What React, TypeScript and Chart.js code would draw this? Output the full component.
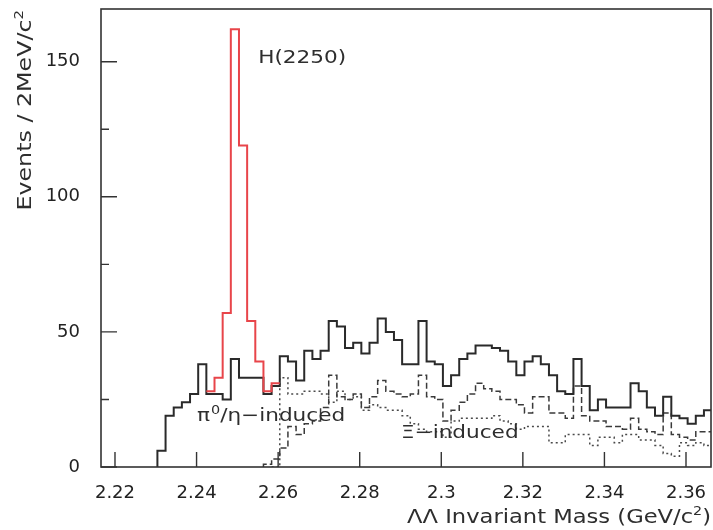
import React, { useEffect, useRef } from 'react';
import { Chart, registerables } from 'chart.js';

Chart.register(...registerables);

// Histogram binning (GeV/c^2): 2 MeV bins
const BIN_START = 2.2304;
const BIN_WIDTH = 0.002;

// All candidates (solid black), bins 0..67
const totalCounts = [
  6, 19, 22, 24, 27, 38, 27, 27, 25, 40,
  33, 33, 33, 27, 30, 41, 39, 32, 43, 40,
  43, 54, 52, 44, 46, 42, 46, 55, 50, 47,
  38, 38, 54, 39, 38, 30, 34, 40, 42, 45,
  45, 44, 43, 39, 34, 39, 41, 38, 34, 28,
  27, 40, 30, 21, 25, 22, 22, 22, 31, 28,
  22, 19, 26, 19, 18, 16, 19, 21,
];

// H(2250) signal region (red), bins 6..14
const signalFirstBin = 6;
const signalCounts = [28, 33, 57, 162, 119, 54, 39, 28, 31];

// pi0/eta-induced background (dashed), bins 13..67
const dashedFirstBin = 13;
const dashedCounts = [
  1, 3, 7, 15, 12, 16, 17, 22, 34, 26,
  25, 27, 22, 26, 32, 28, 27, 26, 27, 34,
  26, 25, 17, 21, 24, 27, 31, 29, 28, 25,
  25, 23, 20, 26, 26, 20, 20, 18, 30, 19,
  17, 17, 15, 15, 14, 18, 14, 13, 12, 20,
  12, 11, 10, 13, 13,
];

// Xi-induced background (dotted), bins 14..67
const dottedFirstBin = 14;
const dottedCounts = [
  0, 33, 27, 27, 28, 28, 27, 24, 28, 25,
  26, 21, 23, 22, 21, 21, 19, 16, 14, 13,
  13, 11, 17, 18, 18, 18, 18, 19, 17, 16,
  14, 15, 15, 15, 9, 9, 12, 12, 12, 8,
  11, 11, 9, 12, 12, 10, 10, 8, 5, 4,
  9, 8, 9, 8,
];

const xTicks = [2.22, 2.24, 2.26, 2.28, 2.3, 2.32, 2.34, 2.36];
const yMajorTicks = [0, 50, 100, 150];
const yMinorTicks = [25, 75, 125];

const X_MIN = 2.21657;
const X_MAX = 2.36613;
const Y_MAX = 169.5;

const FONT = '"DejaVu Sans", sans-serif';
const TEXT_COLOR = '#2e2e2e';
const STRETCH = 1.2;

// Each count holds from its lower bin edge to the next edge
function histogramPoints(firstBin: number, counts: number[], fromZero: boolean) {
  const edge = (k: number) => BIN_START + k * BIN_WIDTH;
  const pts: { x: number; y: number }[] = [];
  if (fromZero) pts.push({ x: edge(firstBin), y: 0 });
  counts.forEach((c, i) => pts.push({ x: edge(firstBin + i), y: c }));
  pts.push({ x: edge(firstBin + counts.length), y: counts[counts.length - 1] });
  return pts;
}

// Draws text horizontally widened by `sx`; returns drawn width
function wideText(
  ctx: CanvasRenderingContext2D,
  text: string,
  x: number,
  y: number,
  size: number,
  sx: number,
  align: 'left' | 'right' = 'left'
) {
  ctx.save();
  ctx.font = `${size}px ${FONT}`;
  ctx.textBaseline = 'alphabetic';
  ctx.textAlign = 'left';
  const w = ctx.measureText(text).width * sx;
  ctx.translate(align === 'right' ? x - w : x, y);
  ctx.scale(sx, 1);
  ctx.fillText(text, 0, 0);
  ctx.restore();
  return w;
}

const framePlugin = {
  id: 'frameAndLabels',
  afterDatasetsDraw(chart: any) {
    const { ctx, chartArea: a, scales } = chart;
    const xs = scales.x;
    const ys = scales.y;
    ctx.save();

    // frame
    ctx.strokeStyle = '#333';
    ctx.lineWidth = 1.6;
    ctx.strokeRect(a.left, a.top, a.right - a.left, a.bottom - a.top);

    // inward tick marks
    ctx.lineWidth = 1.4;
    ctx.beginPath();
    xTicks.forEach((v) => {
      const px = xs.getPixelForValue(v);
      ctx.moveTo(px, a.bottom);
      ctx.lineTo(px, a.bottom - 15);
    });
    yMajorTicks.forEach((v) => {
      const py = ys.getPixelForValue(v);
      ctx.moveTo(a.left, py);
      ctx.lineTo(a.left + 16, py);
    });
    yMinorTicks.forEach((v) => {
      const py = ys.getPixelForValue(v);
      ctx.moveTo(a.left, py);
      ctx.lineTo(a.left + 8, py);
    });
    ctx.stroke();

    ctx.fillStyle = TEXT_COLOR;

    // peak label
    wideText(ctx, 'H(2250)', xs.getPixelForValue(2.2551), ys.getPixelForValue(149.5), 18, STRETCH);

    // pi0/eta-induced label with superscript
    let px = xs.getPixelForValue(2.2401);
    const py = ys.getPixelForValue(17);
    px += wideText(ctx, 'π', px, py, 18, STRETCH);
    px += wideText(ctx, '0', px + 1, py - 7, 12, STRETCH) + 1;
    wideText(ctx, '/η−induced', px, py, 18, STRETCH);

    // Xi-induced label
    wideText(ctx, 'Ξ−induced', xs.getPixelForValue(2.2901), ys.getPixelForValue(10.7), 18, STRETCH);

    // x-axis title, right aligned to the frame
    let tx = a.right;
    const ty = 523;
    tx -= wideText(ctx, ')', tx, ty, 19, 1.19, 'right');
    tx -= wideText(ctx, '2', tx, ty - 8, 12, 1.19, 'right');
    wideText(ctx, 'ΛΛ Invariant Mass (GeV/c', tx, ty, 19, 1.19, 'right');

    // y-axis title, rotated, ending at the top of the frame
    ctx.save();
    ctx.translate(31, 10);
    ctx.rotate(-Math.PI / 2);
    let ry = 0;
    ry -= wideText(ctx, '2', ry, -8, 12, 1.25, 'right');
    wideText(ctx, 'Events / 2MeV/c', ry, 0, 19, 1.25, 'right');
    ctx.restore();

    ctx.restore();
  },
};

const zeroPadding = (s: any) => {
  s.paddingTop = 0;
  s.paddingBottom = 0;
  s.paddingLeft = 0;
  s.paddingRight = 0;
};

export default function App() {
  const canvasRef = useRef<HTMLCanvasElement>(null);

  useEffect(() => {
    const canvas = canvasRef.current;
    if (!canvas) return;
    const chart = new Chart(canvas, {
      type: 'line',
      data: {
        datasets: [
          {
            label: 'H(2250)',
            data: histogramPoints(signalFirstBin, signalCounts, false),
            borderColor: '#e8454a',
            borderWidth: 2,
            stepped: 'before',
            pointRadius: 0,
            fill: false,
          },
          {
            label: 'all',
            data: histogramPoints(0, totalCounts, true),
            borderColor: '#2a2a2a',
            borderWidth: 2,
            stepped: 'before',
            pointRadius: 0,
            fill: false,
          },
          {
            label: 'pi0/eta-induced',
            data: histogramPoints(dashedFirstBin, dashedCounts, true),
            borderColor: '#3a3a3a',
            borderWidth: 1.5,
            borderDash: [6, 3],
            stepped: 'before',
            pointRadius: 0,
            fill: false,
          },
          {
            label: 'Xi-induced',
            data: histogramPoints(dottedFirstBin, dottedCounts, true),
            borderColor: '#4a4a4a',
            borderWidth: 1.5,
            borderDash: [2, 3],
            stepped: 'before',
            pointRadius: 0,
            fill: false,
          },
        ],
      },
      options: {
        responsive: false,
        animation: false,
        devicePixelRatio: 1,
        layout: { autoPadding: false, padding: { left: 0, top: 9, right: 2, bottom: 0 } },
        plugins: { legend: { display: false }, tooltip: { enabled: false } },
        elements: { point: { radius: 0 }, line: { tension: 0 } },
        scales: {
          x: {
            type: 'linear',
            min: X_MIN,
            max: X_MAX,
            grid: { display: false, drawTicks: false },
            border: { display: false },
            afterBuildTicks: (s: any) => {
              s.ticks = xTicks.map((v) => ({ value: v }));
            },
            afterFit: (s: any) => {
              s.height = 63;
              zeroPadding(s);
            },
            ticks: {
              autoSkip: false,
              maxRotation: 0,
              padding: 16,
              color: '#222',
              font: { family: FONT, size: 18 },
              callback: (v: any) => String(+Number(v).toFixed(2)),
            },
          },
          y: {
            type: 'linear',
            min: 0,
            max: Y_MAX,
            grid: { display: false, drawTicks: false },
            border: { display: false },
            afterBuildTicks: (s: any) => {
              s.ticks = yMajorTicks.map((v) => ({ value: v }));
            },
            afterFit: (s: any) => {
              s.width = 101;
              zeroPadding(s);
            },
            ticks: {
              padding: 21,
              color: '#222',
              font: { family: FONT, size: 18 },
              callback: (v: any) => String(v),
            },
          },
        },
      },
      plugins: [framePlugin],
    });
    return () => chart.destroy();
  }, []);

  return (
    <div style={{ position: 'absolute', left: 0, top: 0, width: 713, height: 530, background: '#fff' }}>
      <canvas ref={canvasRef} width={713} height={530} style={{ display: 'block' }} />
    </div>
  );
}
